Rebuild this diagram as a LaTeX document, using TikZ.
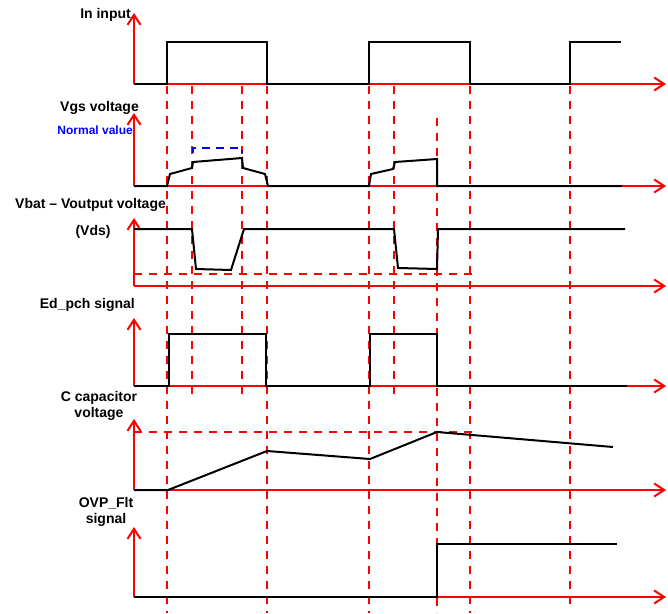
\documentclass[tikz,border=0pt]{standalone}
\usepackage{fontspec}
\setmainfont{Liberation Sans}
\usetikzlibrary{arrows.meta}
\definecolor{axred}{RGB}{255,0,0}
\definecolor{nblue}{RGB}{0,0,255}
\begin{document}
\begin{tikzpicture}[x=1pt,y=-1pt,
  axis/.style={draw=axred,line width=2pt,-{Straight Barb[length=10pt,width=13pt,line width=2pt]}},
  guide/.style={draw=axred,line width=2pt,dash pattern=on 8pt off 7pt},
  wave/.style={draw=black,line width=2pt,line join=miter},
  lbl/.style={font=\fontsize{14}{16}\selectfont\bfseries,inner sep=0pt,align=center},
  nlbl/.style={font=\fontsize{12}{13}\selectfont\bfseries,text=nblue,inner sep=0pt}]
\useasboundingbox (0,0) rectangle (668,613);
% guide lines
\foreach \x/\a/\b in {167/86/613,192/86/398,242/86/398,267/86/613,369/86/613,394/86/398,437/118/613,470/86/613,570/86/610}
  \draw[guide] (\x,\a) -- (\x,\b);
\draw[guide] (134,274) -- (474,274);
\draw[guide] (134,432) -- (476,432);
\draw[draw=nblue,line width=2pt,dash pattern=on 8pt off 6pt] (193,153) -- (193,148) -- (242,148) -- (242,153);
% axes
\foreach \b/\t in {84/13,186/113,286/218,386/318,490/419,597/527}{
  \draw[axis] (134,\b) -- (134,\t);
  \draw[axis] (134,\b) -- (666,\b);
}
% labels
\node[lbl,anchor=east] (l1) at (131,15) {In input};
\node[lbl,anchor=east] (l2) at (139,108) {Vgs voltage};
\node[nlbl,anchor=east] (l2b) at (133,130) {Normal value};
\node[lbl,anchor=west] (l3) at (15,205) {Vbat – Voutput voltage};
\node[lbl] (l3b) at (93,232) {(Vds)};
\node[lbl,anchor=east] (l4) at (135,305) {Ed\_pch signal};
\node[lbl] (l5) at (99,406) {C capacitor\\voltage};
\node[lbl] (l6) at (106,512) {OVP\_Flt\\signal};
% waveforms
\draw[wave] (134,84) -- (167,84) -- (167,42) -- (267,42) -- (267,84) -- (369,84) -- (369,42) -- (470,42) -- (470,84) -- (570,84) -- (570,42) -- (621,42);
\draw[wave] (134,186) -- (167,186) -- (170,174) -- (192,168) -- (193,162) -- (242,158) -- (243,168) -- (265,174) -- (268,186) -- (369,186) -- (371,174) -- (393,169) -- (395,162) -- (437,159) -- (437,186) -- (622,186);
\draw[wave] (134,229) -- (192,229) -- (196,269) -- (231,270) -- (244,229) -- (394,229) -- (398,268) -- (437,269) -- (438,229) -- (625,229);
\draw[wave] (134,386) -- (169,386) -- (169,334) -- (266,334) -- (266,386) -- (370,386) -- (370,334) -- (437,334) -- (437,386) -- (627,386);
\draw[wave] (134,490) -- (168,490) -- (267,451) -- (370,459) -- (437,432) -- (613,447);
\draw[wave] (134,597) -- (437,597) -- (437,544) -- (617,544);
\end{tikzpicture}
\end{document}
